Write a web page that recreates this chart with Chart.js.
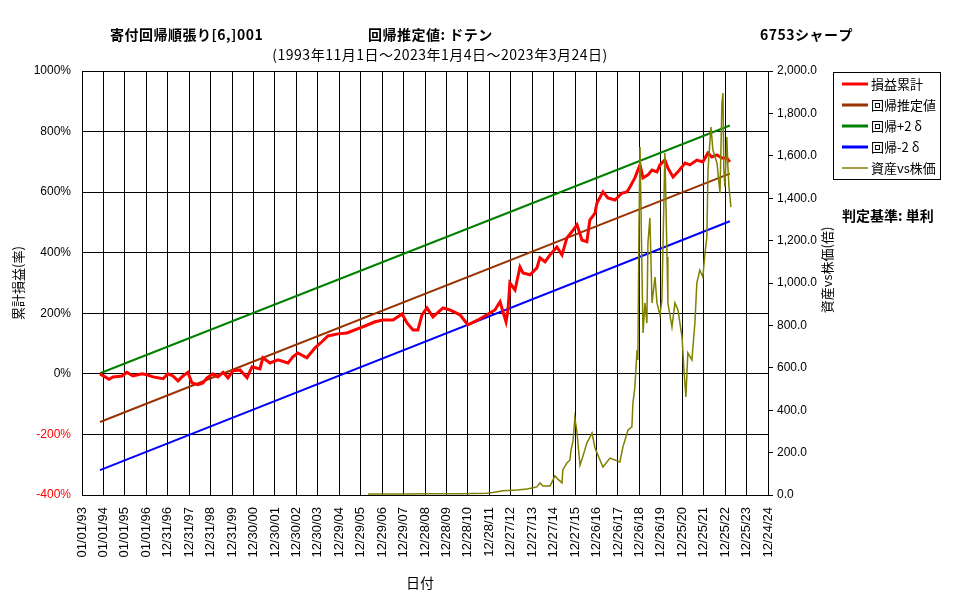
<!DOCTYPE html>
<html>
<head>
<meta charset="utf-8">
<script src="https://cdn.jsdelivr.net/npm/chart.js@4"></script>
<style>
  html, body { margin: 0; padding: 0; background: #fff; }
  #wrap { width: 977px; height: 600px; position: relative; }
</style>
</head>
<body>
<div id="wrap"><canvas id="chart" width="977" height="600"></canvas></div>
<script>
// x軸の目盛ラベル (365日刻み)
const xTickLabels = ['01/01/93','01/01/94','01/01/95','01/01/96','12/31/96','12/31/97','12/31/98','12/31/99',
  '12/30/00','12/30/01','12/30/02','12/30/03','12/29/04','12/29/05','12/29/06','12/29/07','12/28/08',
  '12/28/09','12/28/10','12/28/11','12/27/12','12/27/13','12/27/14','12/27/15','12/26/16','12/26/17',
  '12/26/18','12/26/19','12/25/20','12/25/21','12/25/22','12/25/23','12/24/24'];

// 損益累計 (%)
const profitYears = [1993.84,1994.26,1994.45,1994.87,1995.10,1995.38,1995.80,1996.03,1996.31,1996.78,
  1997.01,1997.24,1997.48,1997.71,1997.94,1998.13,1998.41,1998.64,1998.83,1999.11,1999.34,1999.58,
  1999.81,2000.04,2000.37,2000.70,2000.93,2001.30,2001.44,2001.77,2002.14,2002.61,2002.84,2003.07,
  2003.49,2003.87,2004.19,2004.47,2004.94,2005.36,2005.97,2006.20,2006.67,2007.04,2007.51,2007.93,
  2008.16,2008.44,2008.67,2008.86,2009.09,2009.37,2009.84,2010.16,2010.63,2011.00,2011.47,2011.89,
  2012.26,2012.50,2012.64,2012.78,2012.87,2012.96,2013.20,2013.43,2013.57,2013.90,2014.22,2014.36,
  2014.60,2014.83,2015.15,2015.39,2015.62,2015.85,2016.09,2016.32,2016.55,2016.69,2016.93,2017.02,
  2017.30,2017.53,2017.86,2018.19,2018.42,2018.56,2018.79,2019.03,2019.17,2019.40,2019.59,2019.82,
  2019.96,2020.19,2020.33,2020.57,2020.80,2021.13,2021.36,2021.68,2021.96,2022.20,2022.38,2022.62,
  2022.85,2023.08,2023.22];
const profitValues = [0,-18,-10,-7,5,-7,0,-3,-10,-16,
  0,-7,-23,-7,5,-30,-36,-30,-13,0,-10,5,
  -13,10,13,-13,23,16,53,36,46,36,56,69,
  53,86,106,125,132,135,152,158,172,178,178,198,
  168,145,145,195,218,188,218,211,195,162,178,195,
  211,238,205,172,211,300,277,353,333,327,350,383,
  370,393,419,393,449,469,492,442,436,508,531,564,
  601,581,574,597,601,617,647,690,647,657,673,667,
  690,706,680,650,667,696,690,706,700,729,716,723,
  713,713,700];

// 回帰推定値 と ±2σ (%)
const regYears = [1993.84, 2023.22];
const regMid = [-159, 661];
const regUpper = [2, 820];
const regLower = [-318, 504];

// 資産vs株価 (倍, 第2軸)
const ratioYears = [2006.34,2007.83,2009.09,2010.63,2011.89,2012.17,2012.64,2013.29,2013.76,2014.22,
  2014.36,2014.50,2014.83,2014.92,2015.06,2015.20,2015.39,2015.43,2015.62,2015.76,2015.81,2015.90,
  2015.99,2016.09,2016.13,2016.23,2016.34,2016.55,2016.79,2016.93,2017.30,2017.63,2018.09,2018.23,
  2018.47,2018.65,2018.70,2018.79,2018.89,2018.93,2018.98,2019.03,2019.12,2019.17,2019.26,2019.35,
  2019.40,2019.49,2019.59,2019.73,2019.82,2019.96,2020.05,2020.10,2020.19,2020.29,2020.33,2020.52,
  2020.66,2020.80,2020.99,2021.08,2021.17,2021.26,2021.45,2021.59,2021.68,2021.82,2021.96,2022.06,
  2022.15,2022.20,2022.34,2022.43,2022.62,2022.76,2022.85,2022.90,2022.94,2022.99,2023.08,2023.13,
  2023.18,2023.27];
const ratioValues = [5,5,6,6,8,12,20,24,28,38,
  57,42,42,61,90,75,57,118,151,165,212,250,
  363,297,250,140,174,245,292,222,132,174,156,226,
  307,321,434,509,684,637,1250,1641,1061,764,906,811,
  1189,1307,906,1028,906,849,920,1170,1613,1123,906,792,
  906,873,745,590,462,670,637,811,1000,1061,1028,1141,
  1217,1533,1736,1627,1566,1424,1849,1896,1533,1453,1689,1547,
  1453,1358];

const toPoints = (xs, ys) => xs.map((x, i) => ({ x: x, y: ys[i] }));

const JP = "'Noto Sans CJK JP', 'Noto Sans', sans-serif";
Chart.defaults.font.family = "'Liberation Sans', Arial, sans-serif";
Chart.defaults.font.size = 12;
Chart.defaults.color = '#000';

const legendItems = [
  { label: '損益累計', color: '#ff0000', width: 3 },
  { label: '回帰推定値', color: '#993300', width: 3 },
  { label: '回帰+2 δ', color: '#008000', width: 3 },
  { label: '回帰-2 δ', color: '#0000ff', width: 3 },
  { label: '資産vs株価', color: '#808000', width: 1.5 }
];

// タイトル・凡例・軸タイトルを描く
const textPlugin = {
  id: 'texts',
  afterDraw(chart) {
    const ctx = chart.ctx;
    ctx.save();
    ctx.fillStyle = '#000';
    ctx.textBaseline = 'middle';
    ctx.font = 'bold 14px ' + JP;
    ctx.textAlign = 'left';
    ctx.letterSpacing = '0.5px';
    ctx.fillText('寄付回帰順張り[6,]001', 110, 35);
    ctx.fillText('回帰推定値: ドテン', 368, 35);
    ctx.fillText('6753シャープ', 760, 35);
    ctx.font = '14px ' + JP;
    ctx.textAlign = 'center';
    ctx.fillText('(1993年11月1日～2023年1月4日～2023年3月24日)', 440, 55);
    ctx.letterSpacing = '0px';
    ctx.fillText('日付', 420, 583);

    ctx.font = 'bold 14px ' + JP;
    ctx.textAlign = 'left';
    ctx.fillText('判定基準: 単利', 842, 216);

    // 縦の軸タイトル
    ctx.font = '13px ' + JP;
    ctx.textAlign = 'center';
    ctx.save();
    ctx.translate(18, 283);
    ctx.rotate(-Math.PI / 2);
    ctx.fillText('累計損益(率)', 0, 0);
    ctx.restore();
    ctx.save();
    ctx.translate(827, 270);
    ctx.rotate(-Math.PI / 2);
    ctx.fillText('資産vs株価(倍)', 0, 0);
    ctx.restore();

    // 凡例
    ctx.strokeStyle = '#000';
    ctx.lineWidth = 1;
    ctx.strokeRect(833.5, 72.5, 107, 107);
    ctx.font = '13px ' + JP;
    ctx.textAlign = 'left';
    legendItems.forEach((item, i) => {
      const y = 84 + i * 21;
      ctx.strokeStyle = item.color;
      ctx.lineWidth = item.width;
      ctx.beginPath();
      ctx.moveTo(842, y);
      ctx.lineTo(868, y);
      ctx.stroke();
      ctx.fillText(item.label, 871, y);
    });
    ctx.restore();
  }
};

new Chart(document.getElementById('chart'), {
  type: 'line',
  data: {
    datasets: [
      { label: '資産vs株価', data: toPoints(ratioYears, ratioValues), yAxisID: 'y2',
        borderColor: '#808000', borderWidth: 1.5 },
      { label: '損益累計', data: toPoints(profitYears, profitValues), yAxisID: 'y',
        borderColor: '#ff0000', borderWidth: 3 },
      { label: '回帰推定値', data: toPoints(regYears, regMid), yAxisID: 'y',
        borderColor: '#993300', borderWidth: 2 },
      { label: '回帰+2δ', data: toPoints(regYears, regUpper), yAxisID: 'y',
        borderColor: '#008000', borderWidth: 2 },
      { label: '回帰-2δ', data: toPoints(regYears, regLower), yAxisID: 'y',
        borderColor: '#0000ff', borderWidth: 2 }
    ]
  },
  options: {
    responsive: false,
    animation: false,
    layout: { padding: { top: 71, left: 0, right: 0, bottom: 0 } },
    elements: { point: { radius: 0 }, line: { tension: 0 } },
    plugins: { legend: { display: false }, tooltip: { enabled: false } },
    scales: {
      x: {
        type: 'linear', min: 1993, max: 2025,
        afterFit: s => { s.height = 105; },
        grid: { color: '#000', drawTicks: false },
        border: { color: '#000' },
        ticks: {
          stepSize: 1, autoSkip: false, minRotation: 90, maxRotation: 90, padding: 12,
          font: { size: 13 },
          callback: v => xTickLabels[Math.round(v - 1993)]
        }
      },
      y: {
        position: 'left', min: -400, max: 1000,
        afterFit: s => { s.width = 82; },
        grid: { color: '#000', drawTicks: false },
        border: { color: '#000' },
        ticks: {
          stepSize: 200, padding: 11,
          color: c => (c.tick && c.tick.value < 0 ? '#ff0000' : '#000'),
          callback: v => v + '%'
        }
      },
      y2: {
        position: 'right', min: 0, max: 2000,
        afterFit: s => { s.width = 209; },
        grid: { drawOnChartArea: false, color: '#000', tickLength: 5 },
        border: { color: '#000' },
        ticks: {
          stepSize: 200, padding: 4,
          callback: v => v.toLocaleString('en-US', { minimumFractionDigits: 1, maximumFractionDigits: 1 })
        }
      }
    }
  },
  plugins: [textPlugin]
});
</script>
</body>
</html>
